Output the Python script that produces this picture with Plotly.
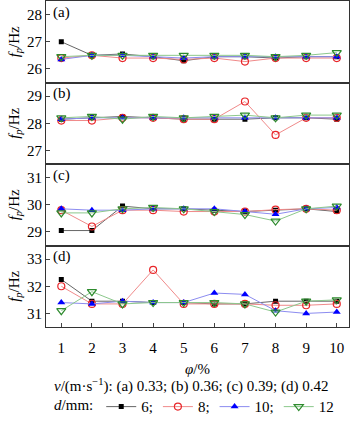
import plotly.graph_objects as go
from plotly.subplots import make_subplots

phi = [1, 2, 3, 4, 5, 6, 7, 8, 9, 10]
d_names = ["6;", "8;", "10;", "12"]
panel_labels = ["(a)", "(b)", "(c)", "(d)"]

# panel (a) v=0.33
a6 = [27.0, 26.5, 26.55, 26.45, 26.3, 26.45, 26.45, 26.4, 26.45, 26.45]
a8 = [26.4, 26.5, 26.4, 26.4, 26.35, 26.4, 26.27, 26.4, 26.4, 26.4]
a10 = [26.35, 26.5, 26.5, 26.45, 26.4, 26.45, 26.45, 26.45, 26.45, 26.45]
a12 = [26.45, 26.5, 26.5, 26.5, 26.5, 26.5, 26.5, 26.45, 26.5, 26.6]
# panel (b) v=0.36
b6 = [28.15, 28.2, 28.25, 28.2, 28.15, 28.15, 28.15, 28.2, 28.2, 28.15]
b8 = [28.1, 28.1, 28.2, 28.2, 28.15, 28.15, 28.8, 27.57, 28.2, 28.2]
b10 = [28.15, 28.2, 28.2, 28.2, 28.2, 28.2, 28.2, 28.2, 28.2, 28.2]
b12 = [28.2, 28.25, 28.15, 28.25, 28.2, 28.25, 28.3, 28.2, 28.3, 28.3]
# panel (c) v=0.39
c6 = [29.05, 29.05, 29.95, 29.85, 29.85, 29.8, 29.75, 29.8, 29.85, 29.75]
c8 = [29.8, 29.2, 29.8, 29.8, 29.75, 29.75, 29.75, 29.82, 29.85, 29.8]
c10 = [29.85, 29.8, 29.8, 29.85, 29.85, 29.85, 29.75, 29.65, 29.85, 29.9]
c12 = [29.7, 29.7, 29.85, 29.9, 29.85, 29.75, 29.64, 29.4, 29.85, 29.95]
# panel (d) v=0.42
d6 = [32.25, 31.45, 31.45, 31.4, 31.4, 31.35, 31.35, 31.45, 31.45, 31.45]
d8 = [32.0, 31.35, 31.35, 32.6, 31.35, 31.35, 31.35, 31.3, 31.3, 31.35]
d10 = [31.4, 31.35, 31.45, 31.4, 31.4, 31.75, 31.7, 31.1, 31.0, 31.05]
d12 = [31.1, 31.8, 31.35, 31.4, 31.4, 31.4, 31.35, 31.05, 31.45, 31.5]

panels = [[a6, a8, a10, a12], [b6, b8, b10, b12], [c6, c8, c10, c12], [d6, d8, d10, d12]]
y_ranges = [[25.5, 28.5], [26.5, 29.5], [28.5, 31.5], [30.5, 33.5]]
y_ticks = [[26, 27, 28], [27, 28, 29], [29, 30, 31], [31, 32, 33]]

styles = [
    dict(line=dict(color="#666666", width=1), marker=dict(symbol="square", size=5, color="#000000")),
    dict(line=dict(color="#f08a8a", width=1), marker=dict(symbol="circle-open", size=7, color="#e8262a", line=dict(width=1.2))),
    dict(line=dict(color="#8c8cf0", width=1), marker=dict(symbol="triangle-up", size=7, color="#0000ff")),
    dict(line=dict(color="#8cc88c", width=1), marker=dict(symbol="triangle-down-open", size=8, color="#2e8b2e", line=dict(width=1.2))),
]

FONT = "Liberation Serif"
fig = make_subplots(rows=4, cols=1, shared_xaxes=True, vertical_spacing=0)

for r, series in enumerate(panels):
    for k, ys in enumerate(series):
        fig.add_trace(go.Scatter(x=phi, y=ys, mode="lines+markers", name=d_names[k],
                                 showlegend=(r == 0), legendgroup=d_names[k],
                                 **styles[k]), row=r + 1, col=1)
    fig.update_yaxes(range=y_ranges[r], tickvals=y_ticks[r], ticks="inside", ticklen=4,
                     showline=True, linecolor="#333333", linewidth=1, mirror=True,
                     showgrid=False, zeroline=False, tickfont=dict(family=FONT, size=15),
                     title=dict(text="<i>f</i><sub><i>p</i></sub>/Hz", font=dict(family=FONT, size=15), standoff=3),
                     row=r + 1, col=1)
    fig.update_xaxes(range=[0.5, 10.4], showline=True, linecolor="#333333", linewidth=1, mirror=True,
                     showgrid=False, zeroline=False,
                     ticks="inside" if r == 3 else "", ticklen=4, tickfont=dict(family=FONT, size=15),
                     tickvals=phi, showticklabels=(r == 3), row=r + 1, col=1)

fig.update_xaxes(title=dict(text="<i>φ</i>/%", font=dict(family=FONT, size=15), standoff=8),
                 ticklabelstandoff=7, row=4, col=1)

for r, lab in enumerate(panel_labels):
    yref = "y domain" if r == 0 else f"y{r + 1} domain"
    fig.add_annotation(text=lab, xref="x domain", yref=yref, x=0.015, y=0.99,
                       xanchor="left", yanchor="top", showarrow=False,
                       font=dict(family=FONT, size=15))

fig.add_annotation(text="<i>v</i>/(m·s<sup>−1</sup>): (a) 0.33; (b) 0.36; (c) 0.39; (d) 0.42",
                   xref="paper", yref="paper", x=0.48, y=-0.18, xanchor="center", yanchor="middle",
                   showarrow=False, font=dict(family=FONT, size=15))

fig.update_layout(
    width=350, height=424,
    margin=dict(l=46, r=1, t=1, b=91),
    paper_bgcolor="white", plot_bgcolor="white",
    font=dict(family=FONT, size=15, color="#000000"),
    legend=dict(orientation="h", x=0.02, y=-0.245, xanchor="left", yanchor="middle",
                title=dict(text="<i>d</i>/mm:", side="left", font=dict(family=FONT, size=15)),
                font=dict(family=FONT, size=15),
                itemwidth=30, tracegroupgap=0, bgcolor="rgba(0,0,0,0)"),
)

fig.write_html("out.html")
